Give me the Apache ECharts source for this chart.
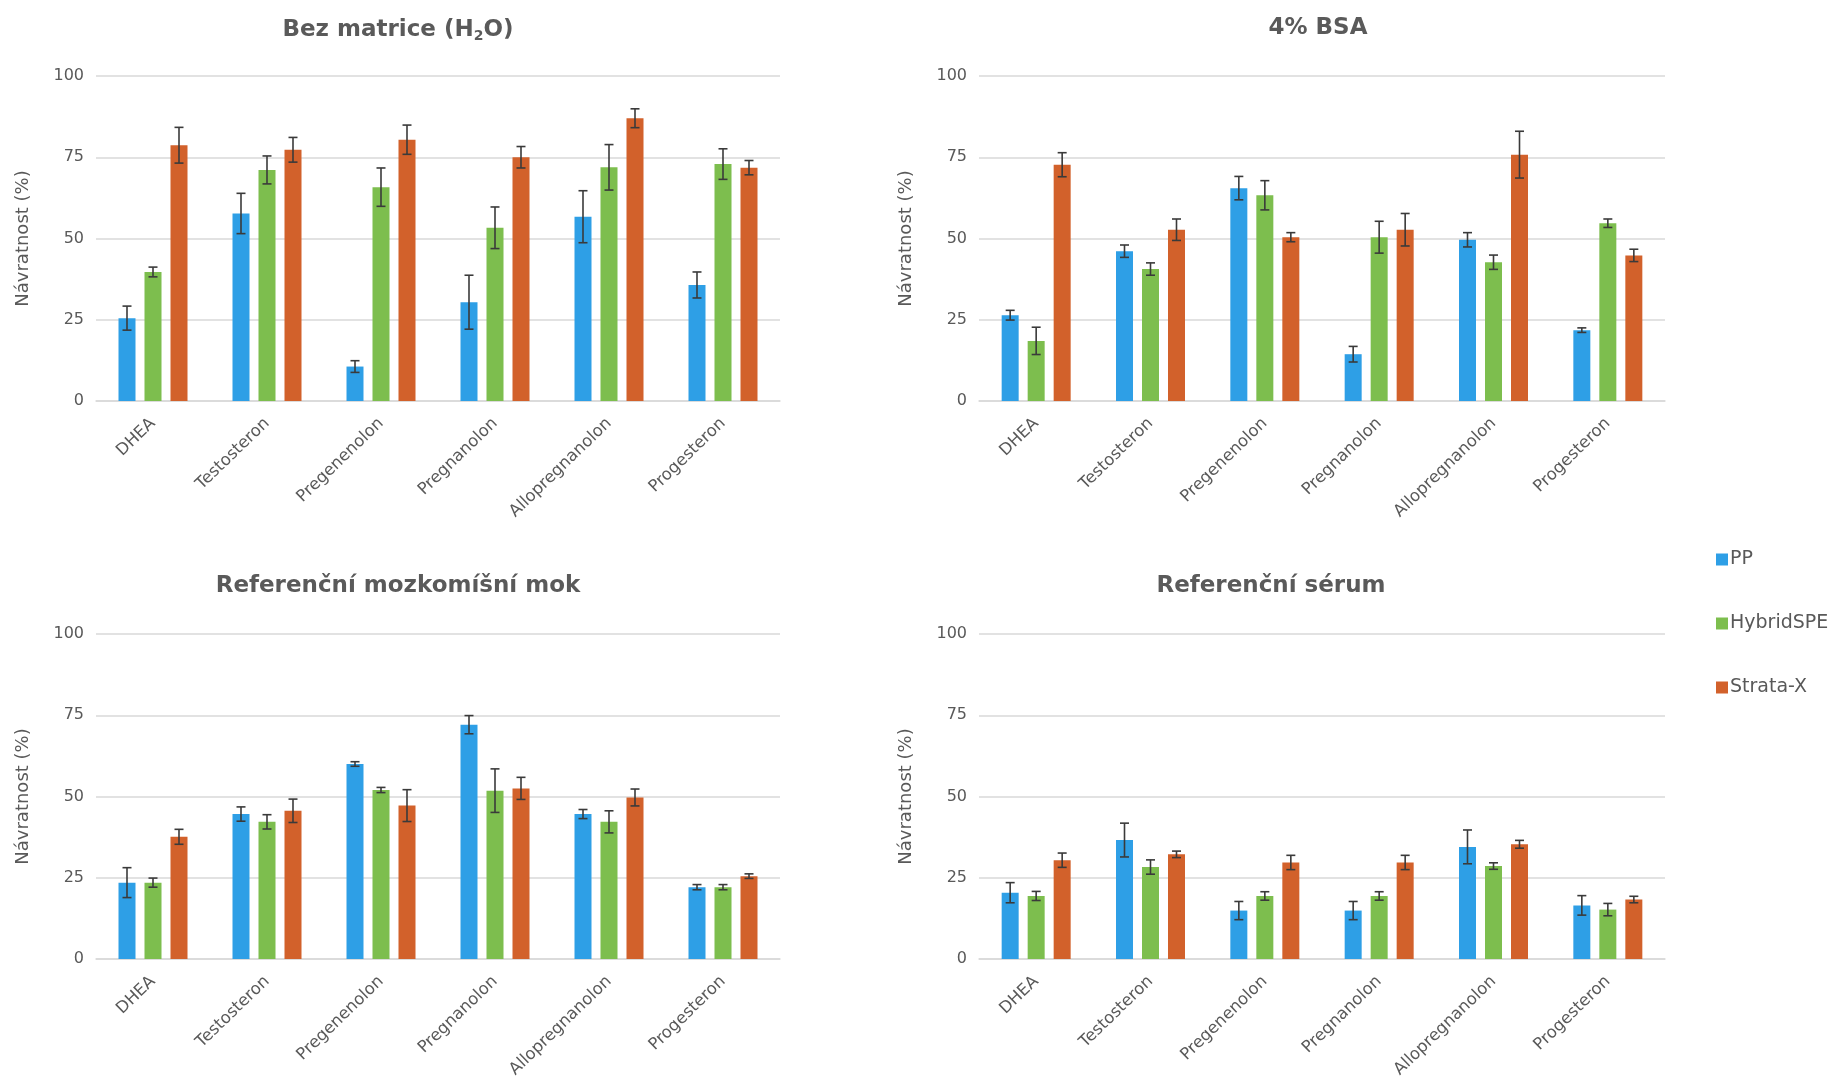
<!DOCTYPE html>
<html>
<head>
<meta charset="utf-8">
<script src="https://cdn.jsdelivr.net/npm/echarts@6/dist/echarts.min.js"></script>
<style>
html,body{margin:0;padding:0;background:#fff;}
#c{width:1838px;height:1085px;}
</style>
</head>
<body>
<div id="c"></div>
<script>
// ---- data ----
const categories = ['DHEA','Testosteron','Pregenenolon','Pregnanolon','Allopregnanolon','Progesteron'];
const seriesNames = ['PP','HybridSPE','Strata-X'];
const yTicks = [0,25,50,75,100];

const titles = ['Bez matrice (H{sub|2}O)','4% BSA','Referenční mozkomíšní mok','Referenční sérum'];

// Bez matrice (H2O)
const h2oPP        = [25.5, 57.7, 10.6, 30.4, 56.7, 35.7];
const h2oPPErr     = [3.7, 6.2, 1.8, 8.3, 8.0, 4.0];
const h2oHybrid    = [39.7, 71.1, 65.8, 53.3, 71.9, 72.9];
const h2oHybridErr = [1.5, 4.3, 5.9, 6.4, 7.0, 4.7];
const h2oStrata    = [78.7, 77.3, 80.4, 75.0, 87.0, 71.8];
const h2oStrataErr = [5.5, 3.8, 4.5, 3.3, 2.9, 2.2];

// 4% BSA
const bsaPP        = [26.4, 46.1, 65.5, 14.4, 49.6, 21.8];
const bsaPPErr     = [1.5, 1.9, 3.6, 2.4, 2.2, 0.7];
const bsaHybrid    = [18.5, 40.6, 63.3, 50.4, 42.7, 54.7];
const bsaHybridErr = [4.2, 1.9, 4.5, 4.9, 2.2, 1.3];
const bsaStrata    = [72.7, 52.7, 50.4, 52.7, 75.8, 44.8];
const bsaStrataErr = [3.7, 3.3, 1.4, 5.0, 7.2, 1.9];

// Referenční mozkomíšní mok
const csfPP        = [23.5, 44.6, 60.0, 72.1, 44.6, 22.1];
const csfPPErr     = [4.6, 2.2, 0.7, 2.8, 1.4, 0.8];
const csfHybrid    = [23.5, 42.2, 52.0, 51.8, 42.2, 22.1];
const csfHybridErr = [1.4, 2.2, 0.8, 6.7, 3.4, 0.8];
const csfStrata    = [37.6, 45.6, 47.2, 52.5, 49.7, 25.5];
const csfStrataErr = [2.3, 3.6, 4.9, 3.4, 2.6, 0.7];

// Referenční sérum
const serPP        = [20.4, 36.6, 14.9, 14.9, 34.5, 16.5];
const serPPErr     = [3.1, 5.2, 2.8, 2.8, 5.2, 3.0];
const serHybrid    = [19.4, 28.3, 19.4, 19.4, 28.6, 15.2];
const serHybridErr = [1.4, 2.2, 1.3, 1.3, 1.0, 1.9];
const serStrata    = [30.4, 32.2, 29.7, 29.7, 35.3, 18.3];
const serStrataErr = [2.2, 1.0, 2.2, 2.2, 1.2, 1.0];

// ---- chart ----
const panels = [
  {vals:[h2oPP,h2oHybrid,h2oStrata], errs:[h2oPPErr,h2oHybridErr,h2oStrataErr]},
  {vals:[bsaPP,bsaHybrid,bsaStrata], errs:[bsaPPErr,bsaHybridErr,bsaStrataErr]},
  {vals:[csfPP,csfHybrid,csfStrata], errs:[csfPPErr,csfHybridErr,csfStrataErr]},
  {vals:[serPP,serHybrid,serStrata], errs:[serPPErr,serHybridErr,serStrataErr]}
];
const colors = ['#2E9FE6','#7DBE4E','#D2612B'];
const FONT = 'DejaVu Sans';
const TXT = '#595959';
const BAR_W = 17, BAR_GAP = 9;

const grids = [
  {left:96, top:76, width:684, height:325},
  {left:979, top:76, width:686, height:325},
  {left:96, top:634, width:684, height:325},
  {left:979, top:634, width:686, height:325}
];
const titlePos = [[393,12],[1313,12],[393,570],[1266,570]];

const option = {
  backgroundColor:'#fff',
  animation:false,
  color: colors,
  title: titles.map((t,i)=>({
    text:t, left:titlePos[i][0], top:titlePos[i][1], textAlign:'center',
    textStyle:{fontFamily:FONT, fontSize:23, fontWeight:'bold', color:'#5a5a5a',
      rich:{sub:{fontFamily:FONT, fontSize:14, fontWeight:'bold', color:'#5a5a5a', verticalAlign:'bottom', padding:[12,0,0,0]}}}
  })),
  legend:{
    data: seriesNames, orient:'vertical', left:1711, top:545, itemGap:45,
    itemWidth:12, itemHeight:12, icon:'rect',
    textStyle:{fontFamily:FONT, fontSize:19, color:TXT, padding:[0,0,0,-3]}
  },
  grid: grids,
  xAxis: grids.map((g,i)=>({
    type:'category', gridIndex:i, data:categories,
    axisLine:{lineStyle:{color:'#d9d9d9', width:1.5}}, axisTick:{show:false},
    axisLabel:{rotate:44, interval:0, fontFamily:FONT, fontSize:16.5, color:TXT, margin:20}
  })),
  yAxis: grids.map((g,i)=>({
    type:'value', gridIndex:i, min:0, max:100, interval:25,
    name:'Návratnost (%)', nameLocation:'middle', nameGap:64, nameRotate:90,
    nameTextStyle:{fontFamily:FONT, fontSize:18, color:TXT},
    axisLine:{show:false}, axisTick:{show:false},
    axisLabel:{fontFamily:FONT, fontSize:16, color:TXT, margin:12,
      formatter:(v)=> yTicks.includes(v) ? String(v) : ''},
    splitLine:{lineStyle:{color:'#d9d9d9', width:1.5}}
  })),
  series: []
};

panels.forEach((p,gi)=>{
  p.vals.forEach((arr,k)=>{
    option.series.push({
      type:'bar', name:seriesNames[k], xAxisIndex:gi, yAxisIndex:gi,
      data:arr, barWidth:BAR_W, barGap:(BAR_GAP/BAR_W*100)+'%',
      itemStyle:{color:colors[k]}
    });
  });
  p.vals.forEach((arr,k)=>{
    const off = (k-1)*(BAR_W+BAR_GAP);
    option.series.push({
      type:'custom', name:'err'+k, xAxisIndex:gi, yAxisIndex:gi, z:10,
      data: arr.map((v,i)=>[i, v-p.errs[k][i], v+p.errs[k][i]]),
      encode:{x:0, y:[1,2]},
      renderItem:(params, api)=>{
        const lo = api.coord([api.value(0), api.value(1)]);
        const hi = api.coord([api.value(0), api.value(2)]);
        const cx = lo[0] + off, cap = 4.5;
        const st = {stroke:'#3a3a3a', lineWidth:1.6};
        return {type:'group', children:[
          {type:'line', shape:{x1:cx,y1:lo[1],x2:cx,y2:hi[1]}, style:st},
          {type:'line', shape:{x1:cx-cap,y1:lo[1],x2:cx+cap,y2:lo[1]}, style:st},
          {type:'line', shape:{x1:cx-cap,y1:hi[1],x2:cx+cap,y2:hi[1]}, style:st}
        ]};
      }
    });
  });
});

const chart = echarts.init(document.getElementById('c'));
chart.setOption(option);
</script>
</body>
</html>
